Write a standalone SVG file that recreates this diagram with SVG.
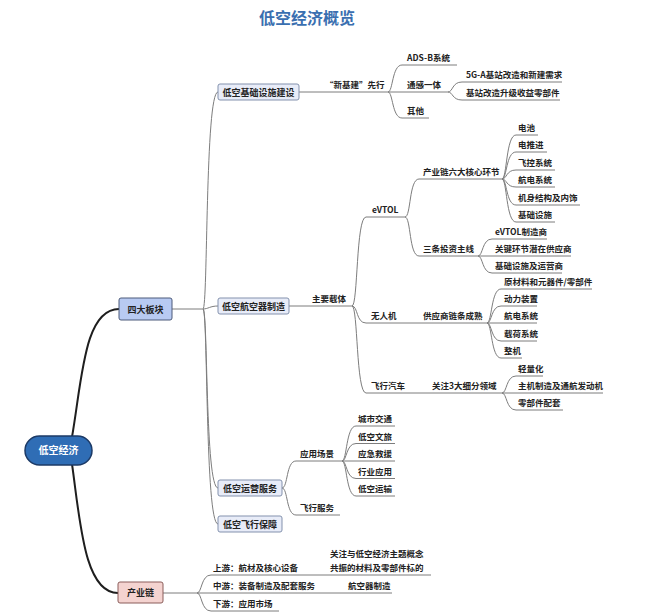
<svg xmlns="http://www.w3.org/2000/svg" width="651" height="614" viewBox="0 0 651 614">
<style>
text{font-family:"Noto Sans CJK SC","Noto Sans",sans-serif;font-weight:bold;fill:#222;}
.t{font-size:8.5px;}
.b{font-size:9px;text-anchor:middle;}
.title{font-size:16px;fill:#3a6fb0;text-anchor:middle;}
.ln{fill:none;stroke:#7d7d7d;stroke-width:1;}
.mn{fill:none;stroke:#1e1e1e;stroke-width:2;}
.l1{fill:#e8ecf8;stroke:#8391ad;stroke-width:1;}
</style>
<rect width="651" height="614" fill="#fff"/>
<text class="title" x="307" y="24">低空经济概览</text>

<g id="connectors">
<path class="mn" d="M72,437 C82,380 84,309 119,309"/>
<path class="mn" d="M72,464 C80,520 84,593 118,593"/>
<path class="ln" d="M172,309 H203"/>
<path class="ln" d="M203,309 C208,309 205,92 218,92"/>
<path class="ln" d="M203,309 C208,309 210,306 218,306"/>
<path class="ln" d="M203,309 C208,309 205,488 218,488"/>
<path class="ln" d="M203,309 C208,309 205,524 218,524"/>
<!-- infra -->
<path class="ln" d="M299,92 H388"/>
<path class="ln" d="M388,92 C393,92 392,65 402,65 H457"/>
<path class="ln" d="M388,92 H448"/>
<path class="ln" d="M388,92 C393,92 392,118 402,118 H429"/>
<path class="ln" d="M448,92 C453,92 452,82 462,82 H562"/>
<path class="ln" d="M448,92 C453,92 452,100 462,100 H560"/>
<!-- aircraft -->
<path class="ln" d="M289,306 H352"/>
<path class="ln" d="M352,306 C358,306 356,217 366,217 H405"/>
<path class="ln" d="M352,306 C358,306 356,323 366,323 H487"/>
<path class="ln" d="M352,306 C358,306 356,393 366,393 H502"/>
<path class="ln" d="M405,217 C411,217 409,179 419,179 H502"/>
<path class="ln" d="M405,217 C411,217 409,256 419,256 H478"/>
<path class="ln" d="M502,179 C507,179 506,135 516,135 H538"/>
<path class="ln" d="M502,179 C507,179 506,152 516,152 H547"/>
<path class="ln" d="M502,179 C507,179 506,170 516,170 H555"/>
<path class="ln" d="M502,179 C507,179 506,187 516,187 H555"/>
<path class="ln" d="M502,179 C507,179 506,205 516,205 H580"/>
<path class="ln" d="M502,179 C507,179 506,222 516,222 H555"/>
<path class="ln" d="M478,256 C483,256 482,239 492,239 H547"/>
<path class="ln" d="M478,256 H571"/>
<path class="ln" d="M478,256 C483,256 482,273 492,273 H562"/>
<path class="ln" d="M487,323 C492,323 491,289 501,289 H592"/>
<path class="ln" d="M487,323 C492,323 491,306 501,306 H537"/>
<path class="ln" d="M487,323 H537"/>
<path class="ln" d="M487,323 C492,323 491,341 501,341 H537"/>
<path class="ln" d="M487,323 C492,323 491,358 501,358 H522"/>
<path class="ln" d="M502,393 C507,393 506,376 516,376 H543"/>
<path class="ln" d="M502,393 H603"/>
<path class="ln" d="M502,393 C507,393 506,410 516,410 H563"/>
<!-- operation -->
<path class="ln" d="M282,488 C288,488 286,461 296,461 H342"/>
<path class="ln" d="M282,488 C288,488 286,515 296,515 H340"/>
<path class="ln" d="M342,461 C347,461 346,426 356,426 H395"/>
<path class="ln" d="M342,461 C347,461 346,443.5 356,443.5 H395"/>
<path class="ln" d="M342,461 H395"/>
<path class="ln" d="M342,461 C347,461 346,478.5 356,478.5 H395"/>
<path class="ln" d="M342,461 C347,461 346,496 356,496 H395"/>
<!-- chain -->
<path class="ln" d="M163,593 H197"/>
<path class="ln" d="M197,593 C202,593 201,575 211,575 H431"/>
<path class="ln" d="M197,593 H392"/>
<path class="ln" d="M197,593 C202,593 201,611 211,611 H279"/>
</g>

<g id="root">
<rect x="25" y="436" width="67" height="29" rx="14.5" fill="#2f6db5" stroke="#1c3a66" stroke-width="1.5"/>
<text x="58.5" y="454" style="font-size:10px;fill:#fff;text-anchor:middle">低空经济</text>
</g>
<g id="n-sida">
<rect x="119" y="298" width="53" height="22" rx="2" fill="#b8caf2" stroke="#4c5b7a"/>
<text class="b" x="145.5" y="312.5">四大板块</text>
</g>
<g id="n-chanyelian">
<rect x="118" y="582" width="45" height="21" rx="2" fill="#f4d3d0" stroke="#8b5d5a"/>
<text class="b" x="140.5" y="596">产业链</text>
</g>

<g id="n-infra">
<rect class="l1" x="218" y="84" width="81" height="16" rx="2"/>
<text class="b" x="258.5" y="95.5">低空基础设施建设</text>
</g>
<g id="n-aircraft">
<rect class="l1" x="218" y="298" width="71" height="16" rx="2"/>
<text class="b" x="253.5" y="309.5">低空航空器制造</text>
</g>
<g id="n-operation">
<rect class="l1" x="218" y="480" width="64" height="16" rx="2"/>
<text class="b" x="250" y="491.5">低空运营服务</text>
</g>
<g id="n-guarantee">
<rect class="l1" x="218" y="516" width="64" height="16" rx="2"/>
<text class="b" x="250" y="527.5">低空飞行保障</text>
</g>

<g id="n-xinjijian"><text class="t" x="325" y="88">“新基建”先行</text></g>
<g id="n-adsb"><text class="t" x="407" y="61">ADS-B系统</text></g>
<g id="n-tonggan"><text class="t" x="407" y="88">通感一体</text></g>
<g id="n-qita"><text class="t" x="407" y="114">其他</text></g>
<g id="n-5ga"><text class="t" x="466" y="78">5G-A基站改造和新建需求</text></g>
<g id="n-jizhan"><text class="t" x="466" y="96">基站改造升级收益零部件</text></g>

<g id="n-zhuyao"><text class="t" x="312" y="302">主要载体</text></g>
<g id="n-evtol"><text class="t" x="372" y="213">eVTOL</text></g>
<g id="n-liuda"><text class="t" x="423" y="175">产业链六大核心环节</text></g>
<g id="n-dianchi"><text class="t" x="518" y="131">电池</text></g>
<g id="n-dtj"><text class="t" x="518" y="148">电推进</text></g>
<g id="n-fk"><text class="t" x="518" y="166">飞控系统</text></g>
<g id="n-hd1"><text class="t" x="518" y="183">航电系统</text></g>
<g id="n-jishen"><text class="t" x="518" y="201">机身结构及内饰</text></g>
<g id="n-jcss"><text class="t" x="518" y="218">基础设施</text></g>
<g id="n-santiao"><text class="t" x="423" y="252">三条投资主线</text></g>
<g id="n-evtolzz"><text class="t" x="495" y="235">eVTOL制造商</text></g>
<g id="n-guanjian"><text class="t" x="495" y="252">关键环节潜在供应商</text></g>
<g id="n-jcyy"><text class="t" x="495" y="269">基础设施及运营商</text></g>
<g id="n-wrj"><text class="t" x="371" y="319">无人机</text></g>
<g id="n-gys"><text class="t" x="423" y="319">供应商链条成熟</text></g>
<g id="n-ycl"><text class="t" x="504" y="285">原材料和元器件/零部件</text></g>
<g id="n-dl"><text class="t" x="504" y="302">动力装置</text></g>
<g id="n-hd2"><text class="t" x="504" y="319">航电系统</text></g>
<g id="n-zh"><text class="t" x="504" y="337">载荷系统</text></g>
<g id="n-zj"><text class="t" x="504" y="354">整机</text></g>
<g id="n-fxqc"><text class="t" x="371" y="389">飞行汽车</text></g>
<g id="n-gz3"><text class="t" x="432" y="389">关注3大细分领域</text></g>
<g id="n-qlh"><text class="t" x="518" y="372">轻量化</text></g>
<g id="n-zjzz"><text class="t" x="518" y="389">主机制造及通航发动机</text></g>
<g id="n-lbj"><text class="t" x="518" y="406">零部件配套</text></g>

<g id="n-yycj"><text class="t" x="300" y="457">应用场景</text></g>
<g id="n-cs"><text class="t" x="358" y="422">城市交通</text></g>
<g id="n-wl"><text class="t" x="358" y="439.5">低空文旅</text></g>
<g id="n-yj"><text class="t" x="358" y="457">应急救援</text></g>
<g id="n-hy"><text class="t" x="358" y="474.5">行业应用</text></g>
<g id="n-ys"><text class="t" x="358" y="492">低空运输</text></g>
<g id="n-fxfw"><text class="t" x="300" y="511">飞行服务</text></g>

<g id="n-shangyou"><text class="t" x="213" y="571">上游：航材及核心设备</text></g>
<g id="n-guanzhu"><text class="t" x="330" y="557">关注与低空经济主题概念</text><text class="t" x="330" y="571">共振的材料及零部件标的</text></g>
<g id="n-zhongyou"><text class="t" x="213" y="589">中游：装备制造及配套服务</text></g>
<g id="n-hkqzz"><text class="t" x="348" y="589">航空器制造</text></g>
<g id="n-xiayou"><text class="t" x="213" y="607">下游：应用市场</text></g>
</svg>
